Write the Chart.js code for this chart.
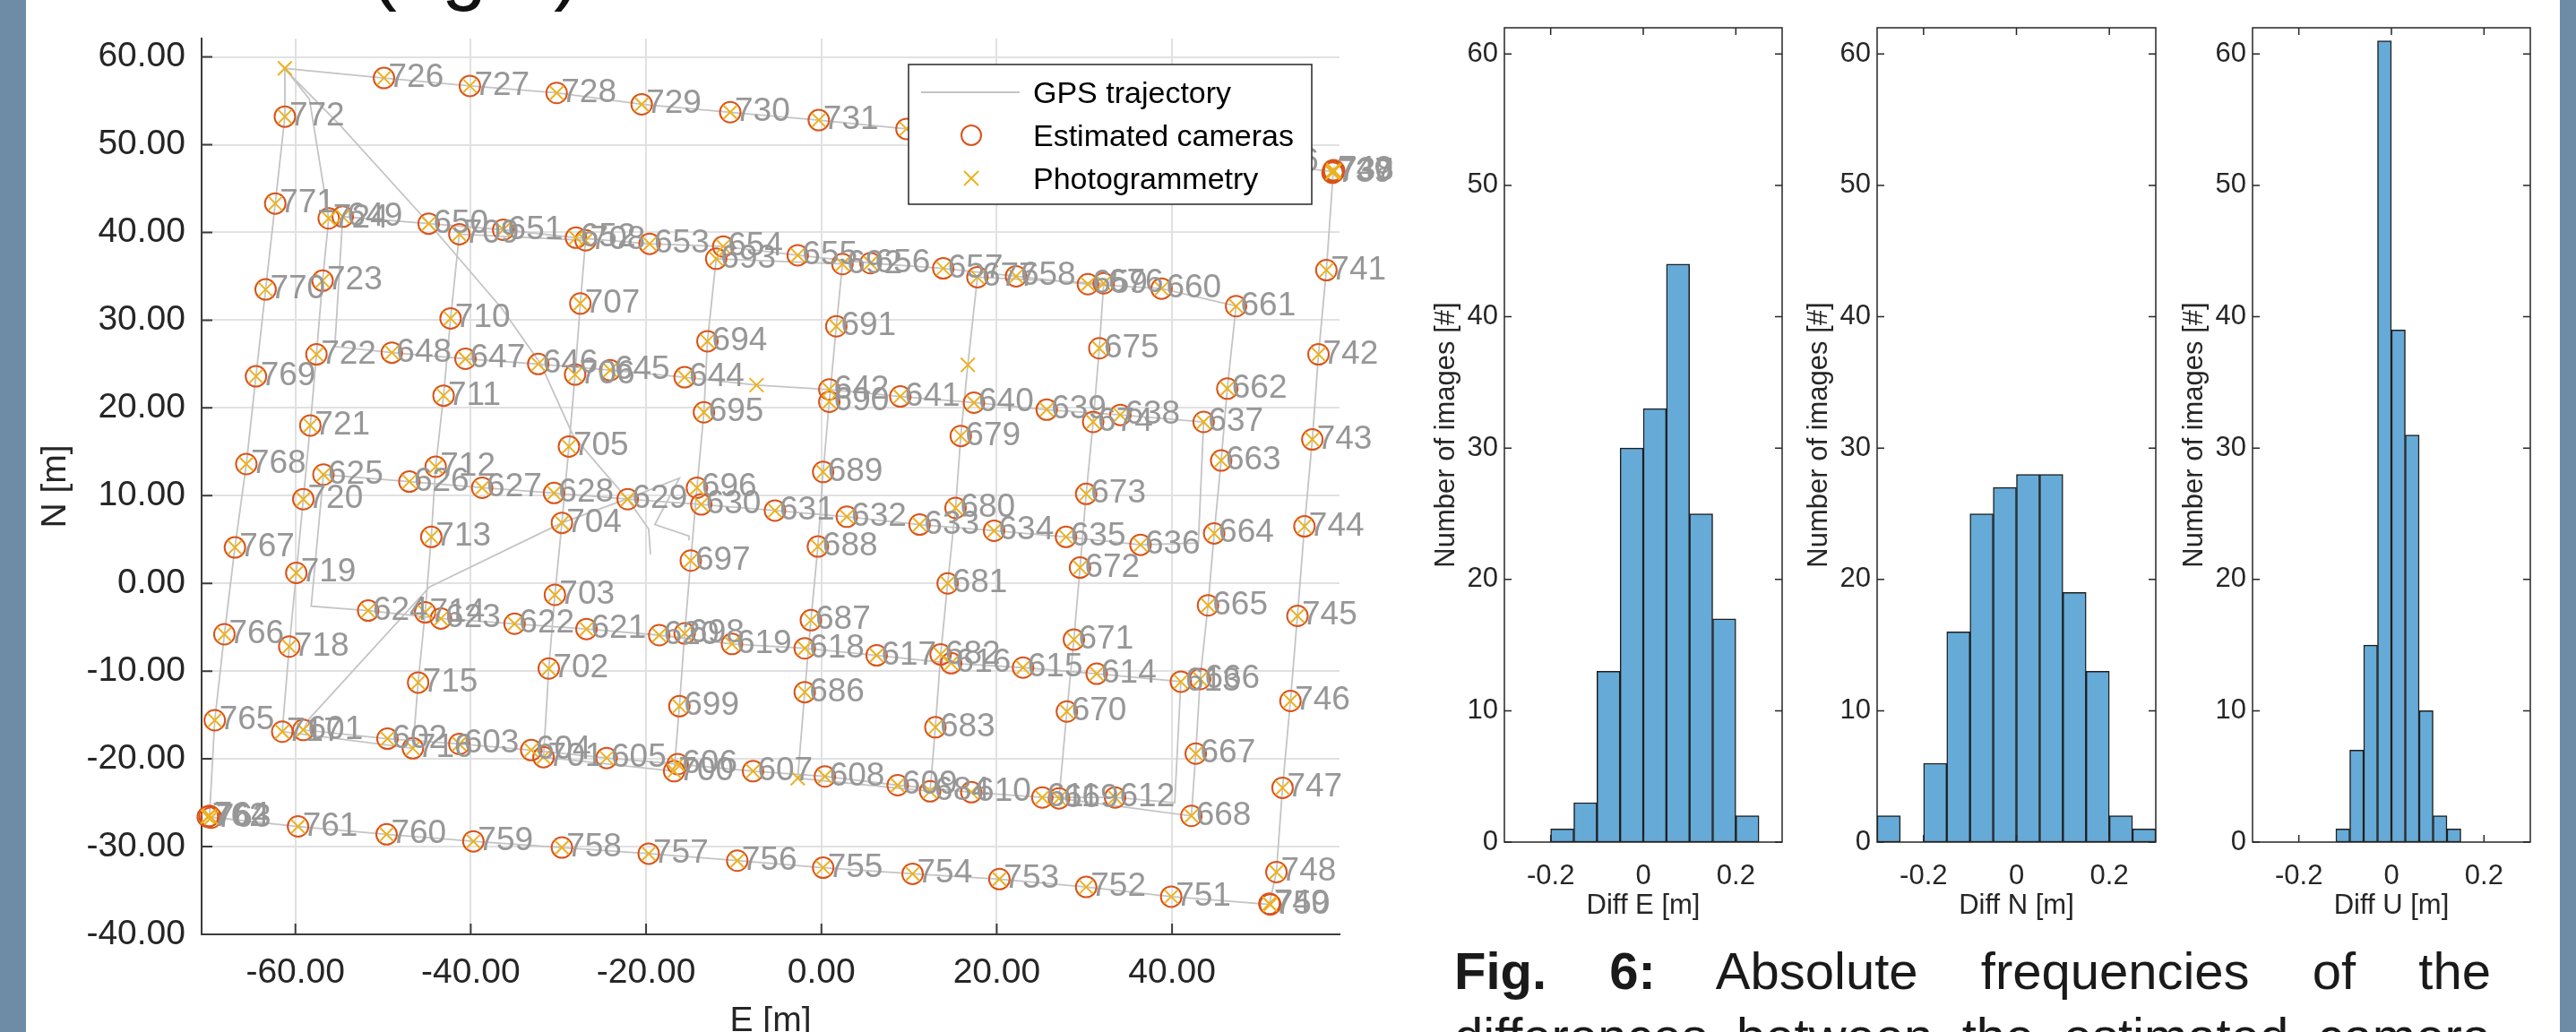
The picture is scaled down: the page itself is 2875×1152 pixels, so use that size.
<!DOCTYPE html>
<html><head><meta charset="utf-8">
<script src="https://cdn.jsdelivr.net/npm/chart.js@4.4.1/dist/chart.umd.min.js"></script>
<style>
html,body{margin:0;padding:0;width:2875px;height:1152px;overflow:hidden;background:#fff;font-family:"Liberation Sans",Arial,sans-serif;}
#stripeL{position:absolute;left:0;top:0;width:29px;height:1152px;background:#6f8ca7;}
#stripeR{position:absolute;left:2857px;top:0;width:18px;height:1152px;background:#6f8ca7;}
canvas{position:absolute;top:0;}
#topText{position:absolute;left:413px;top:-82px;font-size:90px;line-height:90px;color:#111;white-space:nowrap;}
#caption{position:absolute;left:1623px;top:1047px;width:1157px;font-size:58px;line-height:73px;color:#1a1a1a;text-align:justify;text-align-last:justify;}
</style></head>
<body>
<div id="stripeL"></div><div id="stripeR"></div>
<div id="topText">(right)</div>
<canvas id="scene" width="1580" height="1200" style="left:0px"></canvas>
<canvas id="hE"></canvas><canvas id="hN"></canvas><canvas id="hU"></canvas>
<div id="caption"><b>Fig.</b> <b>6:</b> Absolute frequencies of the differences between the estimated camera</div>
<script>
// ---------- data: estimated cameras (image id, East, North) ----------
const camId = [601,602,603,604,605,606,607,608,609,610,611,612,613,614,615,616,617,618,619,620,621,622,623,624,
625,626,627,628,629,630,631,632,633,634,635,636,637,638,639,640,641,642,644,645,646,647,648,
649,650,651,652,653,654,655,656,657,658,659,660,661,662,663,664,665,666,667,668,
669,670,671,672,673,674,675,676,677,679,680,681,682,683,684,
686,687,688,689,690,691,692,693,694,695,696,697,698,699,700,
701,702,703,704,705,706,707,708,709,710,711,712,713,714,715,716,
717,718,719,720,721,722,723,724,726,727,728,729,730,731,732,733,734,735,736,737,738,739,740,
741,742,743,744,745,746,747,748,749,750,751,752,753,754,755,756,757,758,759,760,761,762,763,764,
765,766,767,768,769,770,771,772];
const camE = [-59.1,-49.5,-41.3,-33.1,-24.5,-16.4,-7.8,0.4,8.7,17.1,25.2,33.5,41.0,31.4,23.0,14.8,6.3,-1.9,-10.2,-18.5,-26.8,-35.0,-43.4,-51.7,
-56.8,-47.0,-38.7,-30.5,-22.1,-13.7,-5.3,2.9,11.2,19.7,27.9,36.4,43.6,34.1,25.7,17.4,9.0,0.9,-15.6,-24.1,-32.3,-40.6,-49.0,
-54.6,-44.8,-36.3,-28.0,-19.6,-11.2,-2.7,5.6,13.9,22.2,30.4,38.8,47.3,46.3,45.6,44.8,44.1,43.2,42.7,42.2,
27.1,28.0,28.8,29.5,30.2,31.0,31.7,32.2,17.8,15.9,15.3,14.4,13.6,13.0,12.4,
-1.9,-1.2,-0.4,0.2,0.9,1.7,2.4,-12.0,-13.0,-13.4,-14.2,-14.9,-15.6,-16.2,-16.8,
-31.7,-31.1,-30.4,-29.6,-28.8,-28.1,-27.5,-26.9,-41.3,-42.3,-43.1,-44.0,-44.5,-45.2,-46.0,-46.6,
-61.5,-60.7,-59.9,-59.1,-58.3,-57.6,-56.9,-56.2,-49.9,-40.1,-30.2,-20.5,-10.4,-0.3,9.7,19.7,29.8,39.9,49.9,58.4,58.5,58.3,58.4,
57.6,56.7,56.0,55.1,54.3,53.5,52.6,51.9,51.1,51.2,39.9,30.2,20.3,10.4,0.2,-9.6,-19.7,-29.6,-39.7,-49.6,-59.7,-70.0,-69.6,-69.8,
-69.2,-68.1,-66.9,-65.6,-64.5,-63.4,-62.3,-61.2];
const camN = [-16.7,-17.7,-18.3,-19.0,-19.9,-20.6,-21.4,-22.0,-23.0,-23.8,-24.4,-24.4,-11.2,-10.3,-9.6,-9.1,-8.2,-7.4,-6.9,-5.9,-5.2,-4.6,-4.0,-3.1,
12.4,11.6,10.9,10.3,9.6,9.0,8.3,7.6,6.7,6.0,5.3,4.4,18.4,19.2,19.8,20.6,21.3,22.1,23.5,24.3,25.0,25.6,26.3,
41.8,41.0,40.3,39.4,38.7,38.4,37.4,36.5,35.9,35.0,34.1,33.6,31.6,22.2,14.0,5.7,-2.5,-10.9,-19.4,-26.5,
-24.5,-14.6,-6.4,1.8,10.2,18.4,26.8,34.2,34.9,16.8,8.6,0.0,-8.1,-16.4,-23.7,
-12.4,-4.2,4.2,12.7,20.7,29.3,36.4,37.0,27.6,19.5,10.9,2.6,-5.7,-14.0,-21.4,
-19.8,-9.7,-1.3,6.9,15.6,23.8,31.9,39.1,39.8,30.2,21.4,13.3,5.3,-3.3,-11.3,-18.8,
-16.9,-7.2,1.2,9.6,18.0,26.1,34.5,41.6,57.6,56.7,55.9,54.6,53.7,52.8,51.8,50.9,50.0,49.0,48.0,46.9,47.0,46.8,47.1,
35.7,26.1,16.4,6.5,-3.7,-13.4,-23.3,-32.9,-36.5,-36.6,-35.7,-34.6,-33.7,-33.1,-32.4,-31.6,-30.8,-30.1,-29.4,-28.6,-27.7,-26.6,-26.7,-26.5,
-15.6,-5.8,4.1,13.6,23.6,33.5,43.3,53.2];
// photogrammetry positions coincide with the cameras above; these images only have a photogrammetry solution
const phoOnlyId = [643,678,685,725];
const phoOnlyE  = [-7.4,16.7,-2.7,-61.2];
const phoOnlyN  = [22.6,24.9,-22.2,58.7];
// GPS trajectory: take-off leg, turn points inside the survey, landing leg
const gpsTakeoffE = [-15.1,-15.1,-19.0,-16.2,-22.5,-29.6,-44.7,-58.4];
const gpsTakeoffN = [4.9,5.4,6.7,12.0,9.5,6.9,-0.4,-15.4];
const gpsTurnAfter = [612,624,636,648,724];
const gpsTurnE = [40.3,-58.2,43.0,-55.5,-58.4];
const gpsTurnN = [-25.0,-2.6,4.6,27.0,55.2];
const gpsLandingE = [-61.2,-54.9,-45.0,-36.5,-32.0,-28.3,-24.8,-22.1,-19.7,-19.5];
const gpsLandingN = [58.6,52.2,41.3,31.4,25.0,16.8,12.7,9.6,6.2,3.3];
// axis ticks
const sceneXTicksStep = 20, sceneYTicksStep = 10;
// ---------- histograms ----------
const histEdgesE = [-0.20,-0.15,-0.10,-0.05,0.00,0.05,0.10,0.15,0.20];
const histCountsE = [1,3,13,30,33,44,25,17,2];
const histEdgesN = [-0.30,-0.20,-0.15,-0.10,-0.05,0.00,0.05,0.10,0.15,0.20,0.25];
const histCountsN = [2,6,16,25,27,28,28,19,13,2,1];
const histEdgesU = [-0.12,-0.09,-0.06,-0.03,0.00,0.03,0.06,0.09,0.12];
const histCountsU = [1,7,15,61,39,31,10,2,1];
const binWidthE = 0.05, binWidthN = 0.05, binWidthU = 0.03;
const histXTicks = [-0.2,0,0.2];

const FONT = '"Liberation Sans", Arial, sans-serif';
const ORANGE = '#D95319', YELLOW = '#EDB120';

// build GPS sequence
const allImgs = camId.map((id,i)=>({id, e:camE[i], n:camN[i]}))
  .concat(phoOnlyId.map((id,i)=>({id, e:phoOnlyE[i], n:phoOnlyN[i]})))
  .sort((a,b)=>a.id-b.id);
const gps = gpsTakeoffE.map((e,i)=>({x:e,y:gpsTakeoffN[i]}));
allImgs.forEach(p=>{
  gps.push({x:p.e,y:p.n});
  const k = gpsTurnAfter.indexOf(p.id);
  if (k>=0) gps.push({x:gpsTurnE[k], y:gpsTurnN[k]});
});
gpsLandingE.forEach((e,i)=>gps.push({x:e,y:gpsLandingN[i]}));

const camPts = camId.map((id,i)=>({x:camE[i], y:camN[i]}));
const phoPts = camPts.concat(phoOnlyId.map((id,i)=>({x:phoOnlyE[i], y:phoOnlyN[i]})));

const camLabels = {
  id:'camLabels',
  afterDatasetsDraw(chart){
    const ctx = chart.ctx, xs = chart.scales.x, ys = chart.scales.y;
    ctx.save();
    ctx.font = '37px ' + FONT; ctx.fillStyle = '#979797';
    ctx.textAlign = 'left'; ctx.textBaseline = 'alphabetic';
    camId.forEach((id,i)=>{
      ctx.fillText(String(id), xs.getPixelForValue(camE[i]) + 5, ys.getPixelForValue(camN[i]) + 10);
    });
    ctx.restore();
  }
};
const sceneTicks = {
  id:'sceneTicks',
  beforeDatasetsDraw(chart){
    const ctx = chart.ctx, a = chart.chartArea, xs = chart.scales.x, ys = chart.scales.y;
    ctx.save(); ctx.strokeStyle = '#3c3c3c'; ctx.lineWidth = 2; ctx.beginPath();
    xs.ticks.forEach(t=>{const p = xs.getPixelForValue(t.value); ctx.moveTo(p, a.bottom); ctx.lineTo(p, a.bottom-12);});
    ys.ticks.forEach(t=>{const p = ys.getPixelForValue(t.value); ctx.moveTo(a.left, p); ctx.lineTo(a.left+12, p);});
    ctx.stroke(); ctx.restore();
  }
};
const sceneLegend = {
  id:'sceneLegend',
  afterDraw(chart){
    const ctx = chart.ctx, a = chart.chartArea;
    const bx = a.right - 481, by = a.top + 29, bw = 450, bh = 156;
    ctx.save();
    ctx.fillStyle = '#fff'; ctx.fillRect(bx, by, bw, bh);
    ctx.strokeStyle = '#262626'; ctx.lineWidth = 1.5; ctx.strokeRect(bx, by, bw, bh);
    const rows = [by+31, by+79, by+127], mx = bx + 70;
    ctx.strokeStyle = '#c4c4c4'; ctx.lineWidth = 2;
    ctx.beginPath(); ctx.moveTo(bx+14, rows[0]); ctx.lineTo(bx+124, rows[0]); ctx.stroke();
    ctx.strokeStyle = ORANGE; ctx.lineWidth = 2;
    ctx.beginPath(); ctx.arc(mx, rows[1], 11, 0, Math.PI*2); ctx.stroke();
    ctx.strokeStyle = YELLOW; ctx.beginPath();
    ctx.moveTo(mx-8, rows[2]-8); ctx.lineTo(mx+8, rows[2]+8);
    ctx.moveTo(mx-8, rows[2]+8); ctx.lineTo(mx+8, rows[2]-8); ctx.stroke();
    ctx.fillStyle = '#000'; ctx.font = '34px ' + FONT; ctx.textAlign = 'left'; ctx.textBaseline = 'alphabetic';
    ['GPS trajectory','Estimated cameras','Photogrammetry'].forEach((t,i)=>ctx.fillText(t, bx+139, rows[i]+12));
    ctx.restore();
  }
};

new Chart(document.getElementById('scene'), {
  type:'scatter',
  data:{datasets:[
    {label:'GPS trajectory', data:gps, showLine:true, borderColor:'#c4c4c4', borderWidth:1.8, pointRadius:0, tension:0, order:3, clip:false},
    {label:'Estimated cameras', data:camPts, pointStyle:'circle', pointRadius:11.5, borderColor:ORANGE, backgroundColor:'rgba(0,0,0,0)', pointBorderWidth:2, order:2, clip:false},
    {label:'Photogrammetry', data:phoPts, pointStyle:'crossRot', pointRadius:11, borderColor:YELLOW, backgroundColor:YELLOW, pointBorderWidth:2, order:1, clip:false}
  ]},
  options:{
    responsive:false, animation:false, devicePixelRatio:1, events:[],
    layout:{padding:{left:0, right:85, top:43, bottom:0}},
    plugins:{legend:{display:false}, tooltip:{enabled:false}},
    scales:{
      x:{type:'linear', min:-70.7, max:59.1,
        grid:{color:'#e1e1e1', lineWidth:2, drawTicks:false},
        border:{display:true, color:'#3c3c3c', width:2},
        ticks:{stepSize:sceneXTicksStep, includeBounds:false, autoSkip:false, maxRotation:0, padding:20, color:'#262626', font:{family:FONT, size:39}, callback:v=>Number(v).toFixed(2)},
        title:{display:true, text:'E [m]', color:'#262626', font:{family:FONT, size:39}, padding:{top:0, bottom:36.6}},
        afterFit(s){ s.height = 157; }},
      y:{type:'linear', min:-40, max:62.1,
        grid:{color:'#e1e1e1', lineWidth:2, drawTicks:false},
        border:{display:true, color:'#3c3c3c', width:2},
        ticks:{stepSize:sceneYTicksStep, includeBounds:false, autoSkip:false, padding:18, color:'#262626', font:{family:FONT, size:39}, callback:v=>Number(v).toFixed(2)},
        title:{display:true, text:'N [m]', color:'#262626', font:{family:FONT, size:39}, padding:{top:38.6, bottom:0}},
        afterFit(s){ s.width = 225; }}
    }
  },
  plugins:[sceneTicks, camLabels, sceneLegend]
});

const histFrame = {
  id:'histFrame',
  afterDatasetsDraw(chart){
    const ctx = chart.ctx, a = chart.chartArea, xs = chart.scales.x, ys = chart.scales.y;
    ctx.save(); ctx.strokeStyle = '#262626'; ctx.lineWidth = 1.5;
    ctx.strokeRect(a.left, a.top, a.right-a.left, a.bottom-a.top);
    ctx.beginPath();
    xs.ticks.forEach(t=>{const p = xs.getPixelForValue(t.value);
      ctx.moveTo(p, a.bottom); ctx.lineTo(p, a.bottom-8); ctx.moveTo(p, a.top); ctx.lineTo(p, a.top+8);});
    ys.ticks.forEach(t=>{const p = ys.getPixelForValue(t.value);
      ctx.moveTo(a.left, p); ctx.lineTo(a.left+8, p); ctx.moveTo(a.right, p); ctx.lineTo(a.right-8, p);});
    ctx.stroke(); ctx.restore();
  }
};

function makeHist(id, areaLeft, areaRight, edges, counts, bw, xTitle){
  const cv = document.getElementById(id);
  const axisW = 100, padR = 20, H = 1060, areaTop = 31, areaBottom = 940;
  cv.style.left = (areaLeft - axisW) + 'px';
  cv.width = (areaRight - areaLeft) + axisW + padR; cv.height = H;
  new Chart(cv, {
    type:'bar',
    data:{datasets:[{data:edges.map((e,i)=>({x:e + bw/2, y:counts[i]})),
      backgroundColor:'rgb(102,170,215)', borderColor:'#1f1f1f', borderWidth:1.5, borderSkipped:false,
      barPercentage:1, categoryPercentage:1}]},
    options:{
      responsive:false, animation:false, devicePixelRatio:1, events:[],
      layout:{padding:{left:0, right:padR, top:areaTop, bottom:0}},
      plugins:{legend:{display:false}, tooltip:{enabled:false}},
      scales:{
        x:{type:'linear', min:-0.3, max:0.3, offset:false,
          grid:{display:false, drawTicks:false, offset:false}, border:{display:false},
          afterBuildTicks(s){ s.ticks = histXTicks.map(v=>({value:v})); },
          ticks:{autoSkip:false, maxRotation:0, padding:20, color:'#262626', font:{family:FONT, size:31},
            callback:v=>Math.abs(v)<1e-9 ? '0' : String(+Number(v).toFixed(1))},
          title:{display:true, text:xTitle, color:'#262626', font:{family:FONT, size:31}, padding:{top:0, bottom:29.5}},
          afterFit(s){ s.height = H - areaBottom; }},
        y:{type:'linear', min:0, max:62,
          grid:{display:false, drawTicks:false}, border:{display:false},
          ticks:{stepSize:10, includeBounds:false, autoSkip:false, padding:7, color:'#262626', font:{family:FONT, size:31}},
          title:{display:true, text:'Number of images [#]', color:'#262626', font:{family:FONT, size:31}, padding:{top:16.4, bottom:0}},
          afterFit(s){ s.width = axisW; }}
      }
    },
    plugins:[histFrame]
  });
}
makeHist('hE', 1679, 1989, histEdgesE, histCountsE, binWidthE, 'Diff E [m]');
makeHist('hN', 2095, 2406, histEdgesN, histCountsN, binWidthN, 'Diff N [m]');
makeHist('hU', 2514, 2824, histEdgesU, histCountsU, binWidthU, 'Diff U [m]');
</script>
</body></html>
